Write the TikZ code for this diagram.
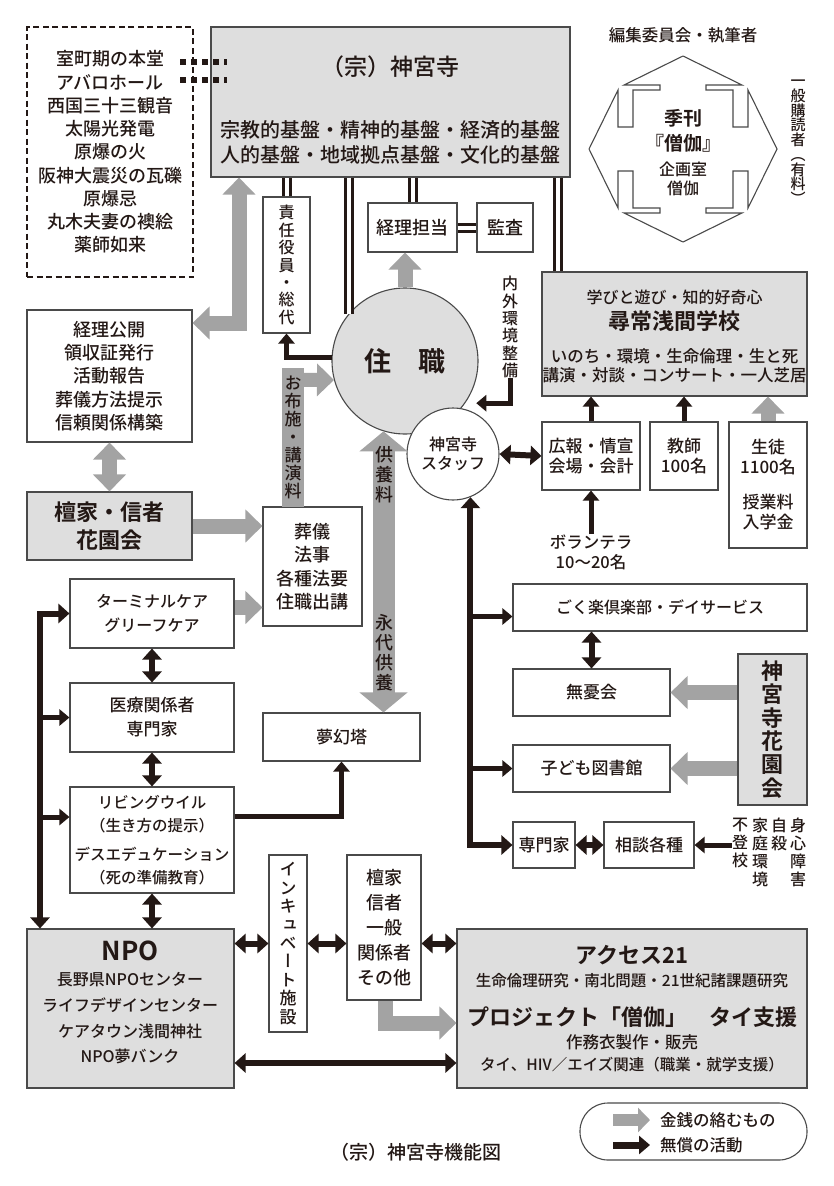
\documentclass[tikz,border=0pt]{standalone}
\usepackage{fontspec}
\setmainfont{Noto Sans CJK JP}[UprightFont=* Medium, BoldFont=* Bold]
\newfontfamily\vfont{Noto Sans CJK JP}[UprightFont=* Medium, BoldFont=* Bold, RawFeature=+vert]
\usetikzlibrary{arrows.meta,calc,positioning}
\definecolor{Ink}{HTML}{231815}
\definecolor{Edge}{HTML}{4A4A4A}
\definecolor{Panel}{HTML}{DEDEDE}
\definecolor{Money}{HTML}{A3A3A3}
\newcommand{\fsz}[2]{\fontsize{#1}{#2}\selectfont}

\begin{document}
\begin{tikzpicture}[x=1pt, y=-1pt,
  box/.style={draw=Edge, line width=1.1pt, fill=white, align=center, inner sep=0pt, text=Ink},
  gbox/.style={box, fill=Panel},
  lab/.style={align=center, inner sep=0pt, text=Ink},
  barr/.style={draw=Ink, line width=5pt, line join=miter, -{Triangle[width=16pt,length=10pt]}},
  barr2/.style={draw=Ink, line width=6pt, line join=miter, {Triangle[width=19pt,length=11pt]}-{Triangle[width=19pt,length=11pt]}},
  garr/.style={draw=Money, line width=15pt, line join=miter, -{Triangle[width=32pt,length=17pt]}},
  garr2/.style={draw=Money, line width=15pt, line join=miter, {Triangle[width=32pt,length=17pt]}-{Triangle[width=32pt,length=17pt]}},
  dbl/.style={draw=Ink, line width=3pt, double=white, double distance=4pt},
  octline/.style={draw=Edge, line width=1.1pt, line join=miter},
]
\fill[white] (0,0) rectangle (833,1186);
\useasboundingbox (0,0) rectangle (833,1186);
% ---------------- temple and heritage list
\node[box, draw=Ink, line width=2.4pt, dash pattern=on 6pt off 3.5pt, minimum width=166pt, minimum height=250pt, font=\fsz{18}{23.25}] (heritage) at (110,152)
  {室町期の本堂\\アバロホール\\西国三十三観音\\太陽光発電\\原爆の火\\阪神大震災の瓦礫\\原爆忌\\丸木夫妻の襖絵\\薬師如来};
\node[gbox, minimum width=359pt, minimum height=150pt] (temple) at (390.5,102) {};
\node[lab, font=\fsz{23}{28}] (temname) at (390,67) {（宗）神宮寺};
\node[lab, font=\fsz{20}{25}] (tembase) at (390,142.5) {宗教的基盤・精神的基盤・経済的基盤\\人的基盤・地域拠点基盤・文化的基盤};
\draw[draw=Ink, line width=6pt, dash pattern=on 6pt off 5pt, shorten <=-14pt, shorten >=-17pt] (heritage.east |- 0,62) -- (temple.west |- 0,62);
\draw[draw=Ink, line width=6pt, dash pattern=on 6pt off 5pt, shorten <=-14pt, shorten >=-17pt] (heritage.east |- 0,80) -- (temple.west |- 0,80);
% ---------------- magazine
\node[lab, font=\fsz{16.5}{20}] (editors) at (683,35) {編集委員会・執筆者};
\foreach \sx/\sy in {1/1,-1/1,1/-1,-1/-1}{
  \begin{scope}[shift={(683,149)}, xscale=\sx, yscale=\sy]
    \draw[octline] (0,-93) -- (-59,-64) -- (-23,-64) -- (-23,-59) -- (-50,-59) -- (-50,-22) -- (-65,-22) -- (-65,-59) -- (-94,0);
  \end{scope}
}
\node[lab, font=\bfseries\fsz{19}{25}] (kikan) at (683,130.5) {季刊\\『僧伽』};
\node[lab, font=\fsz{16}{19}] (kikaku) at (683,179) {企画室\\僧伽};
\node[lab, font=\vfont\fsz{15}{14.7}, anchor=north] (readers) at (798,80) {一\\般\\購\\読\\者\\︵\\有\\料\\︶};
% ---------------- around the priest
\node[box, minimum width=47pt, minimum height=136pt, font=\vfont\fsz{16}{17.4}] (yakuin) at (286.5,265) {責\\任\\役\\員\\・\\総\\代};
\node[box, minimum width=89pt, minimum height=49pt, font=\fsz{18}{22}] (keiri) at (412.5,227.5) {経理担当};
\node[box, minimum width=56pt, minimum height=49pt, font=\fsz{18}{22}] (kansa) at (505,227.5) {監査};
\node[circle, draw=Edge, line width=1.1pt, fill=Panel, minimum size=146pt, inner sep=0pt, text=Ink, font=\bfseries\fsz{27}{30}] (jushoku) at (405,361) {住　職};
\node[circle, draw=Edge, line width=1.1pt, fill=white, minimum size=92pt, inner sep=0pt, align=center, text=Ink, font=\fsz{16}{19}] (staff) at (453,454) {神宮寺\\スタッフ};
\node[lab, font=\vfont\fsz{16}{17.3}] (naigai) at (510,327) {内\\外\\環\\境\\整\\備};
\coordinate (rbus) at (staff.292);
% ---------------- left column
\node[box, minimum width=165pt, minimum height=132pt, font=\fsz{18}{23.25}] (kokai) at (109.5,376) {経理公開\\領収証発行\\活動報告\\葬儀方法提示\\信頼関係構築};
\node[gbox, minimum width=165pt, minimum height=68pt, font=\bfseries\fsz{22}{28}] (danka) at (109.5,526) {檀家・信者\\花園会};
\node[box, minimum width=99pt, minimum height=119pt, font=\fsz{18}{23.3}] (sogi) at (312.5,566.5) {葬儀\\法事\\各種法要\\住職出講};
\node[box, minimum width=164pt, minimum height=69pt, font=\fsz{16}{24}] (terminal) at (152,613.5) {ターミナルケア\\グリーフケア};
\node[box, minimum width=164pt, minimum height=69pt, font=\fsz{17}{24}] (iryo) at (152,717.5) {医療関係者\\専門家};
\node[box, minimum width=164pt, minimum height=106pt, font=\fsz{15.5}{23}] (living) at (152,840) {リビングウイル\\（生き方の提示）\\[6pt]デスエデュケーション\\（死の準備教育）};
\node[box, minimum width=157pt, minimum height=48pt, font=\fsz{17}{22}] (mugen) at (341.5,737) {夢幻塔};
\coordinate (lbus) at (40,929);
% ---------------- bottom row
\node[gbox, minimum width=207pt, minimum height=159pt] (npo) at (130.5,1008.5) {};
\node[lab, font=\bfseries\fsz{26}{30}] (nponame) at (130,951) {NPO};
\node[lab, font=\fsz{16}{25.7}] (npolist) at (130,1018.5) {長野県NPOセンター\\ライフデザインセンター\\ケアタウン浅間神社\\NPO夢バンク};
\node[box, minimum width=38pt, minimum height=177pt, font=\vfont\fsz{17}{18.4}] (incu) at (288,943.5) {イ\\ン\\キ\\ュ\\ベ\\ー\\ト\\施\\設};
\node[box, minimum width=74pt, minimum height=145pt, font=\fsz{18}{25}] (kankei) at (384,927.5) {檀家\\信者\\一般\\関係者\\その他};
\node[gbox, minimum width=350pt, minimum height=159pt] (access) at (632,1008.5) {};
\node[lab, font=\bfseries\fsz{22}{26}] (acname) at (632,955) {アクセス21};
\node[lab, font=\fsz{15.5}{19}] (acres) at (632,981) {生命倫理研究・南北問題・21世紀諸課題研究};
\node[lab, font=\bfseries\fsz{22}{26}] (acproj) at (632,1017) {プロジェクト「僧伽」\quad タイ支援};
\node[lab, font=\fsz{16.5}{20}] (acsamue) at (632,1042) {作務衣製作・販売};
\node[lab, font=\fsz{15.5}{19}] (acthai) at (632,1065) {タイ、HIV／エイズ関連（職業・就学支援）};
% ---------------- school
\node[gbox, minimum width=265pt, minimum height=124pt] (school) at (674.5,334) {};
\node[lab, font=\fsz{16}{20}] (scmotto) at (674.5,297) {学びと遊び・知的好奇心};
\node[lab, font=\bfseries\fsz{22}{26}] (scname) at (674.5,321) {尋常浅間学校};
\node[lab, font=\fsz{16.5}{19}] (scprog) at (674.5,366) {いのち・環境・生命倫理・生と死\\講演・対談・コンサート・一人芝居};
\node[box, minimum width=98pt, minimum height=68pt, font=\fsz{17}{20}] (koho) at (591,456) {広報・情宣\\会場・会計};
\node[box, minimum width=68pt, minimum height=68pt, font=\fsz{17}{20}] (kyoshi) at (684,456) {教師\\100名};
\node[box, minimum width=78pt, minimum height=126pt, font=\fsz{17}{20}] (seito) at (768,485) {生徒\\1100名\\[15pt]授業料\\入学金};
\node[lab, font=\fsz{16.5}{20}] (volunteer) at (591,552) {ボランテラ\\10〜20名};
% ---------------- right column
\node[box, minimum width=294pt, minimum height=47pt, font=\fsz{16}{20}] (gokuraku) at (660,607.5) {ごく楽倶楽部・デイサービス};
\node[box, minimum width=157pt, minimum height=47pt, font=\fsz{17}{20}] (muyu) at (591.5,692.5) {無憂会};
\node[box, minimum width=157pt, minimum height=47pt, font=\fsz{17}{20}] (kodomo) at (591.5,768.5) {子ども図書館};
\node[gbox, minimum width=69pt, minimum height=151pt, font=\vfont\bfseries\fsz{22}{23.3}] (hanazono) at (772.5,729.5) {神\\宮\\寺\\花\\園\\会};
\node[box, minimum width=62pt, minimum height=46pt, font=\fsz{17}{20}] (senmon) at (544,845) {専門家};
\node[box, minimum width=90pt, minimum height=46pt, font=\fsz{17}{20}] (sodan) at (649,845) {相談各種};
\node[lab, font=\vfont\fsz{16}{18}, anchor=north] (futoko) at (740,818) {不\\登\\校};
\node[lab, font=\vfont\fsz{16}{18}, anchor=north] (katei) at (760,818) {家\\庭\\環\\境};
\node[lab, font=\vfont\fsz{16}{18}, anchor=north] (jisatsu) at (779,818) {自\\殺};
\node[lab, font=\vfont\fsz{16}{18}, anchor=north] (shogai) at (798,818) {身\\心\\障\\害};
% ---------------- double lines (organisation)
\draw[dbl] (yakuin.north) -- (yakuin.north |- temple.south);
\draw[dbl] (temple.south -| jushoku.140) -- (jushoku.140);
\draw[dbl] (keiri.north) -- (keiri.north |- temple.south);
\draw[dbl] (keiri.east) -- (kansa.west);
\draw[dbl] (temple.south -| 558,0) -- (school.north -| 558,0);
% ---------------- money (grey)
\draw[garr2] (kokai.east |- 0,323) -| (temple.south -| 239,0);
\draw[garr2] (kokai.south) -- (danka.north);
\draw[garr] (danka.east) -- (danka.east -| sogi.west);
\draw[garr] ($(terminal.east)+(0,-6)$) -- ($(terminal.east -| sogi.west)+(0,-6)$);
\draw[garr] (jushoku.north) -- (jushoku.north |- keiri.south);
\node[lab, fill=Money, minimum width=22pt, minimum height=139pt, font=\vfont\fsz{17}{18}] (ofuse) at (293,437.5) {お\\布\\施\\・\\講\\演\\料};
\draw[garr, line width=14pt] ($(ofuse.north east)+(-1,12)$) -- (jushoku.195);
\draw[draw=Money, line width=22pt, {Triangle[width=47pt,length=20pt]}-{Triangle[width=47pt,length=20pt]}] (jushoku.253) -- (mugen.north -| jushoku.253);
\node[lab, font=\vfont\fsz{18}{20}] (kuyo) at (384,475) {供\\養\\料};
\node[lab, font=\vfont\fsz{18}{20}] (eitai) at (384,653) {永\\代\\供\\養};
\draw[garr] (seito.north) -- (seito.north |- school.south);
\draw[garr] (hanazono.west |- muyu.east) -- (muyu.east);
\draw[garr] (hanazono.west |- kodomo.east) -- (kodomo.east);
\draw[garr] (kankei.south -| 385,0) |- (access.west |- 0,1023);
% ---------------- free activities (black)
\draw[barr] (jushoku.177) -| (yakuin.south);
\draw[barr, shorten >=11pt] (naigai.south) |- (jushoku.325);
\draw[barr2] (staff.east) -- (koho.west);
\draw[barr] (koho.north) -- (koho.north |- school.south);
\draw[barr] (kyoshi.north) -- (kyoshi.north |- school.south);
\draw[barr] (volunteer.north) -- (koho.south);
\draw[barr2] (senmon.west) -| (rbus);
\draw[barr] ($(gokuraku.west -| rbus)+(0,9)$) -- ($(gokuraku.west)+(0,9)$);
\draw[barr] (kodomo.west -| rbus) -- (kodomo.west);
\draw[barr2] (muyu.north) -- (muyu.north |- gokuraku.south);
\draw[barr2] (senmon.east) -- (sodan.west);
\draw[barr] (sodan.east -| futoko.west) -- (sodan.east);
\draw[barr2] (npo.north -| lbus) |- (terminal.west);
\draw[barr] (iryo.west -| lbus) -- (iryo.west);
\draw[barr] ($(living.west -| lbus)+(0,-23)$) -- ($(living.west)+(0,-23)$);
\draw[barr2] (terminal.south) -- (iryo.north);
\draw[barr2] (iryo.south) -- (living.north);
\draw[barr2] (living.south) -- (living.south |- npo.north);
\draw[barr] ($(living.east)+(0,-24)$) -| (mugen.south);
\draw[barr2] (npo.east |- incu.west) -- (incu.west);
\draw[barr2] (incu.east) -- (incu.east -| kankei.west);
\draw[barr2] (kankei.east |- incu.east) -- (access.west |- incu.east);
\draw[barr2] (access.west |- 0,1063) -- (npo.east |- 0,1063);
% ---------------- legend and caption
\node[box, rounded corners=28pt, minimum width=227pt, minimum height=57pt] (legend) at (693.5,1131.5) {};
\node[lab, font=\fsz{16.5}{20}, anchor=west] (lgmoney) at (660,1120) {金銭の絡むもの};
\node[lab, font=\fsz{16.5}{20}, anchor=west] (lgfree) at (660,1145) {無償の活動};
\draw[garr, line width=12pt, -{Triangle[width=24pt,length=12pt]}] ($(lgmoney.west)+(-47,0)$) -- ($(lgmoney.west)+(-10,0)$);
\draw[barr, line width=7pt, -{Triangle[width=18pt,length=11pt]}] ($(lgfree.west)+(-47,0)$) -- ($(lgfree.west)+(-10,0)$);
\node[lab, font=\fsz{19}{23}] (caption) at (416,1152) {（宗）神宮寺機能図};
\end{tikzpicture}
\end{document}
